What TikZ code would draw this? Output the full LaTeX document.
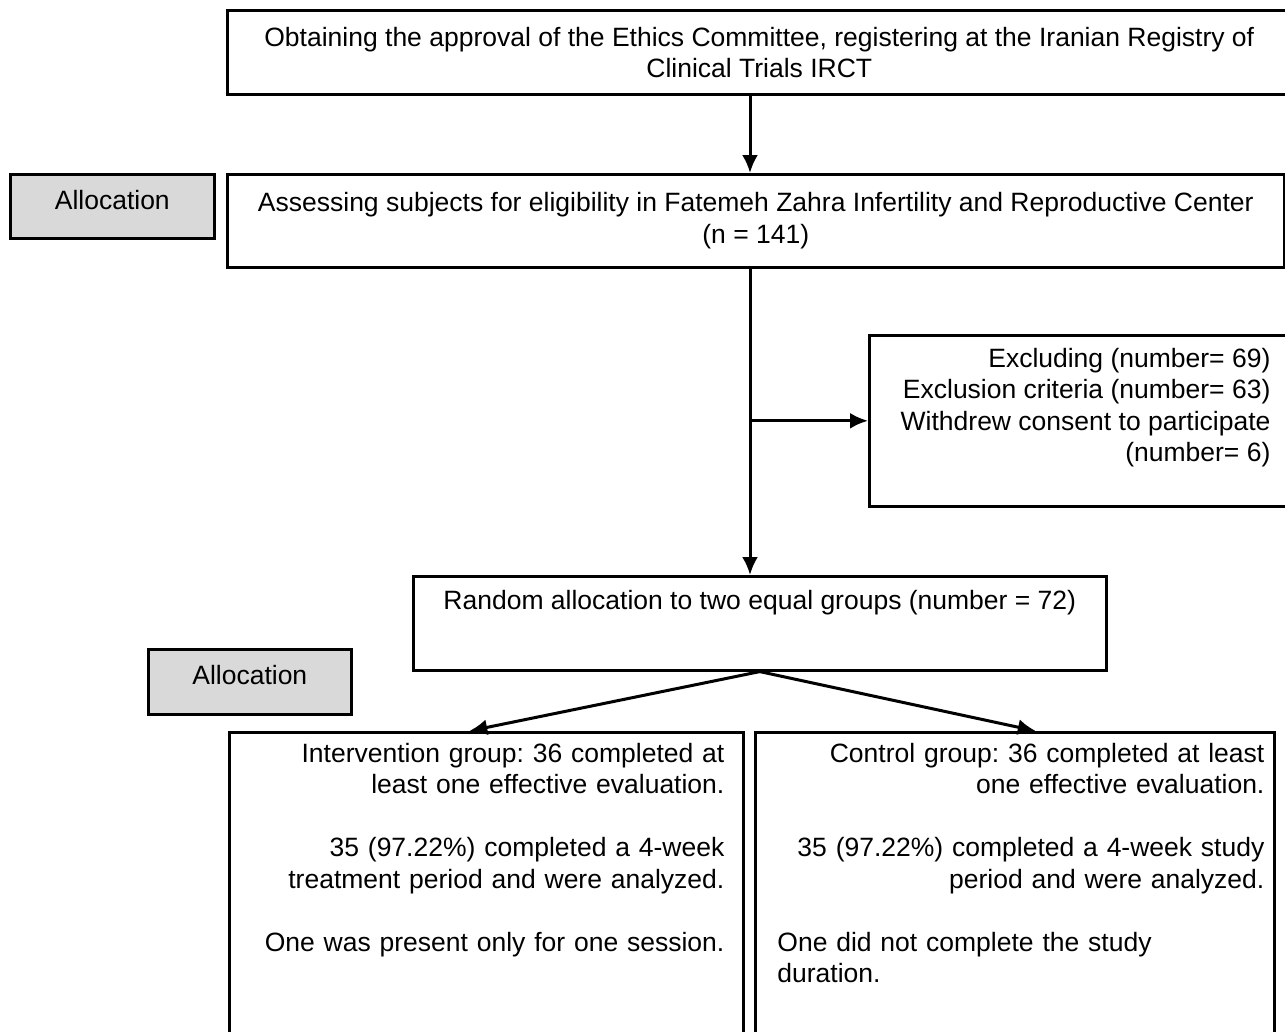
\documentclass[tikz,border=0pt]{standalone}
\usepackage{fontspec}
\setmainfont{Liberation Sans}
\usepackage{tikz}
\usetikzlibrary{calc, arrows.meta}

\begin{document}
\frenchspacing
\begin{tikzpicture}[x=1pt, y=-1pt,
        box/.style={rectangle, draw=black, line width=2.6pt, anchor=north west, inner sep=0pt, font=\fontsize{26.5}{31.5}\selectfont},
        greybox/.style={box, fill=black!15, text height=18pt, text depth=12pt},
        boxtext/.style={inner sep=0pt, font=\fontsize{26.5}{31.5}\selectfont},
        arr/.style={-{Latex[length=18pt, width=16pt]}, line width=3pt}]

        \useasboundingbox (0,0) rectangle (1285,1031);
        \clip (0,0) rectangle (1285,1031);

        %% Side labels
        \node (allocone) [greybox, minimum width=204pt, minimum height=64pt] at (9,173) {Allocation};
        \node (alloctwo) [greybox, minimum width=203pt, minimum height=65pt] at (147,648) {Allocation};

        %% Main boxes
        \node (approval) [box, minimum width=1064pt, minimum height=84pt, align=center] at (226,9) {Obtaining the approval of the Ethics Committee, registering at the Iranian Registry of\\Clinical Trials IRCT};
        \node (assess) [box, minimum width=1057pt, minimum height=93pt, align=center] at (226,173) {Assessing subjects for eligibility in Fatemeh Zahra Infertility and Reproductive Center\\(n = 141)};
        \node (exclude) [box, minimum width=422pt, minimum height=171pt] at (868,334) {};
        \node (random) [box, minimum width=693pt, minimum height=94pt] at (412,575) {};

        %% Group boxes
        \node (interv) [box, minimum width=514pt, minimum height=330pt] at (228,731) {};
        \node (control) [box, minimum width=519pt, minimum height=330pt] at (754,731) {};

        %% Texts in the boxes
        \node (excludetext) [boxtext, anchor=north east, align=right] at ($(exclude.north east)+(-22,14)$) {Excluding (number= 69)\\Exclusion criteria (number= 63)\\Withdrew consent to participate\\(number= 6)};
        \node (randomtext) [boxtext, anchor=north] at ($(random.north)+(0,15)$) {Random allocation to two equal groups (number = 72)};
        \node (intervtext) [boxtext, anchor=north east, text width=470pt, align=right] at ($(interv.north east)+(-20,12)$) {Intervention group: 36 completed at\\least one effective evaluation.\\[31.5pt]35 (97.22\%) completed a 4-week\\treatment period and were analyzed.\\[31.5pt]One was present only for one session.};
        \node (controltext) [boxtext, anchor=north east, text width=487pt, align=right] at ($(control.north east)+(-11,12)$) {Control group: 36 completed at least\\one effective evaluation.\\[31.5pt]35 (97.22\%) completed a 4-week study\\period and were analyzed.\\[31.5pt]\makebox[487pt][l]{One did not complete the study}\\\makebox[487pt][l]{duration.}};

        %% Arrows
        \coordinate (trunk) at (750,0);
        \draw [arr] (approval.south -| trunk) -- (assess.north -| trunk);
        \draw [arr] (assess.south -| trunk) -- (random.north -| trunk);
        \draw [arr] (exclude.west -| trunk) -- (exclude.west);
        \draw [arr] (random.south) -- ([xshift=-17pt]interv.north);
        \draw [arr] (random.south) -- ([xshift=21pt]control.north);

\end{tikzpicture}
\end{document}
